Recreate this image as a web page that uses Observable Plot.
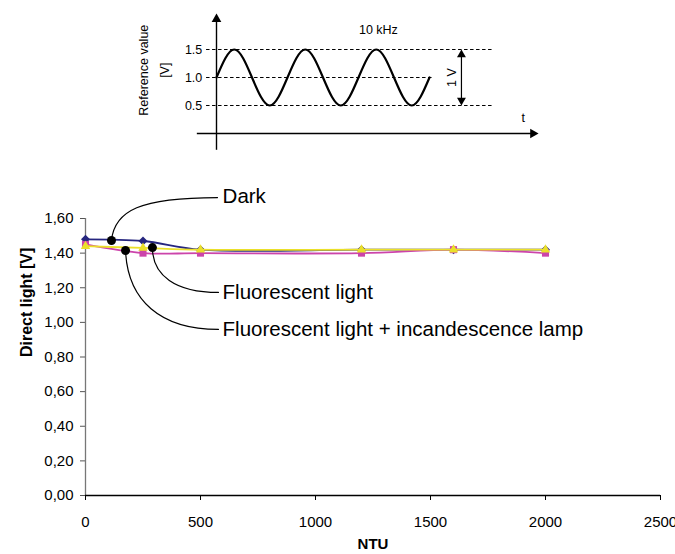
<!DOCTYPE html>
<html><head><meta charset="utf-8">
<script src="https://cdn.jsdelivr.net/npm/d3@7"></script>
<script src="https://cdn.jsdelivr.net/npm/@observablehq/plot@0.6"></script>
<style>
body{margin:0;background:#fff;}
#wrap{position:relative;width:675px;height:554px;overflow:hidden;background:#fff;}
#wrap svg{position:absolute;left:0;top:0;overflow:visible;}
</style></head><body><div id="wrap"></div>
<script>
// ---- main chart data ----
const ntu = [0, 250, 500, 1200, 1600, 2000];
const darkV = [1.48, 1.47, 1.42, 1.42, 1.42, 1.42];        // navy diamonds
const fluorIncV = [1.45, 1.40, 1.40, 1.40, 1.42, 1.40];    // magenta squares
const fluorV = [1.44, 1.43, 1.42, 1.42, 1.42, 1.42];       // yellow triangles
const seriesNames = ["Dark", "Fluorescent light + incandescence lamp", "Fluorescent light"];
const seriesValues = [darkV, fluorIncV, fluorV];
const seriesColors = ["#26267f", "#cc44aa", "#ebe02a"];
const seriesSymbols = ["square", "square", "triangle"];
const seriesRotate = [45, 0, 0];
const seriesR = [3.6, 4, 3.5];
const xTicks = [0, 500, 1000, 1500, 2000, 2500];
const xTickLabels = ["0", "500", "1000", "1500", "2000", "2500"];
const yTicks = [0, 0.2, 0.4, 0.6, 0.8, 1.0, 1.2, 1.4, 1.6];
const yTickLabels = ["0,00","0,20","0,40","0,60","0,80","1,00","1,20","1,40","1,60"];

// annotations (data units of the main chart): dot, bezier connector (start, ctrl1, ctrl2, end), label
const annotLabels = ["Dark", "Fluorescent light", "Fluorescent light + incandescence lamp"];
const annotDotX = [113, 291, 174];
const annotDotY = [1.473, 1.432, 1.415];
const annotPathX = [[113, 126, 239, 574], [291, 291, 391, 578], [174, 183, 326, 578]];
const annotPathY = [[1.473, 1.646, 1.721, 1.721], [1.432, 1.271, 1.173, 1.173], [1.415, 1.126, 0.959, 0.959]];
const annotTextX = [596, 596, 596];
const annotTextY = [1.727, 1.173, 0.959];

// ---- inset (reference signal) data ----
const sineT = [0, 0.25, 0.5, 0.75, 1, 1.25, 1.5, 1.75, 2, 2.25, 2.5, 2.75, 3];
const sineV = [1, 1.5, 1, 0.5, 1, 1.5, 1, 0.5, 1, 1.5, 1, 0.5, 1];
const levelV = [1.5, 1.0, 0.5];
const levelLabels = ["1.5", "1.0", "0.5"];
const levelEnd = [3.89, 3.07, 3.89];

const font = "Liberation Sans, Arial, Helvetica, sans-serif";
const wrap = document.getElementById("wrap");

// custom curve: one cubic Bezier from 4 points (start, control1, control2, end)
function bezierCurve(context) {
  let pts = [];
  return {
    areaStart() {}, areaEnd() {},
    lineStart() { pts = []; },
    point(x, y) { pts.push([+x, +y]); },
    lineEnd() {
      if (pts.length === 4) {
        context.moveTo(pts[0][0], pts[0][1]);
        context.bezierCurveTo(pts[1][0], pts[1][1], pts[2][0], pts[2][1], pts[3][0], pts[3][1]);
      } else if (pts.length) {
        context.moveTo(pts[0][0], pts[0][1]);
        for (const p of pts.slice(1)) context.lineTo(p[0], p[1]);
      }
    }
  };
}

// ---------- main chart ----------
const lineMarks = [];
seriesNames.forEach((name, s) => {
  const rows = ntu.map((x, i) => ({x, y: seriesValues[s][i]}));
  lineMarks.push(Plot.line(rows, {x: "x", y: "y", stroke: seriesColors[s], strokeWidth: 1.8, curve: "catmull-rom"}));
  lineMarks.push(Plot.dot(rows, {x: "x", y: "y", symbol: seriesSymbols[s], r: seriesR[s], fill: seriesColors[s], stroke: "none", rotate: seriesRotate[s]}));
});
const connRows = annotPathX.flatMap((xs, k) => xs.map((x, i) => ({k, x, y: annotPathY[k][i]})));

const main = Plot.plot({
  width: 675, height: 554,
  marginTop: 218, marginBottom: 59, marginLeft: 85, marginRight: 15,
  style: {fontFamily: font, fontSize: "15px", background: "transparent", overflow: "visible", color: "#000"},
  x: {domain: [0, 2500]},
  y: {domain: [0, 1.6]},
  marks: [
    Plot.axisY({ticks: yTicks, tickFormat: (d) => yTickLabels[yTicks.indexOf(d)], tickSize: 5, tickPadding: 7, label: null, fontSize: 15, stroke: "#555"}),
    Plot.axisX({ticks: xTicks, tickFormat: (d) => xTickLabels[xTicks.indexOf(d)], tickSize: 5, tickPadding: 16, label: null, fontSize: 15}),
    Plot.ruleX([0], {stroke: "#777", strokeWidth: 1.3}),
    Plot.ruleY([0], {stroke: "#000", strokeWidth: 1.3}),
    ...lineMarks,
    Plot.line(connRows, {x: "x", y: "y", z: "k", stroke: "#000", strokeWidth: 1.2, curve: bezierCurve}),
    Plot.dot(annotLabels, {x: annotDotX, y: annotDotY, r: 4.5, fill: "#000"}),
    Plot.text(annotLabels, {x: annotTextX, y: annotTextY, text: (d) => d, textAnchor: "start", fontSize: 20.5, fill: "#000"}),
    Plot.text(["Direct light [V]"], {text: (d) => d, frameAnchor: "left", dx: -59, rotate: -90, fontWeight: "bold", fontSize: 16, fill: "#000"}),
    Plot.text(["NTU"], {text: (d) => d, frameAnchor: "bottom", dy: 53, fontWeight: "bold", fontSize: 15, fill: "#000"})
  ]
});
wrap.appendChild(main);

// ---------- inset ----------
const sineRows = sineT.map((t, i) => ({t, v: sineV[i]}));
const inset = Plot.plot({
  width: 675, height: 160,
  marginTop: 0, marginBottom: 0, marginLeft: 0, marginRight: 0,
  style: {fontFamily: font, fontSize: "12.5px", background: "transparent", overflow: "visible", color: "#000"},
  x: {domain: [0, 3], range: [216, 429], axis: null},
  y: {domain: [0, 1.5], range: [133, 49], axis: null},
  marks: [
    Plot.ruleY(levelV, {y: (d) => d, x1: -0.14, x2: (d, i) => levelEnd[i], stroke: "#000", strokeWidth: 1, strokeDasharray: "3.5,2.5"}),
    Plot.ruleX([0], {y1: -0.30, y2: 2.05, stroke: "#000", strokeWidth: 1.4}),
    Plot.ruleY([0], {x1: -0.27, x2: 4.45, stroke: "#000", strokeWidth: 1.4}),
    Plot.dot([0], {x: 0, y: 2.14, symbol: "triangle", r: 3.6, fill: "#000", dy: 5.5}),
    Plot.dot([0], {x: 4.535, y: 0, symbol: "triangle", r: 3.6, fill: "#000", rotate: 90, dx: -5.5}),
    Plot.line(sineRows, {x: "t", y: "v", stroke: "#000", strokeWidth: 2.2, curve: "natural"}),
    Plot.ruleX([3.45], {y1: 0.56, y2: 1.44, stroke: "#000", strokeWidth: 1.2}),
    Plot.dot([0], {x: 3.45, y: 1.5, symbol: "triangle", r: 3.3, fill: "#000", dy: 5.2}),
    Plot.dot([0], {x: 3.45, y: 0.5, symbol: "triangle", r: 3.3, fill: "#000", rotate: 180, dy: -5.2}),
    Plot.text(levelLabels, {x: -0.2, y: levelV, text: (d) => d, textAnchor: "end", fontSize: 12.5}),
    Plot.text(["Reference value"], {text: (d) => d, x: -1.02, y: 1.13, rotate: -90, fontSize: 12.5}),
    Plot.text(["[V]"], {text: (d) => d, x: -0.73, y: 1.13, rotate: -90, fontSize: 12.5}),
    Plot.text(["10 kHz"], {text: (d) => d, x: 2.28, y: 1.857, fontSize: 12.5, letterSpacing: "-0.3px"}),
    Plot.text(["1 V"], {text: (d) => d, x: 3.32, y: 1.0, rotate: -90, fontSize: 12.5}),
    Plot.text(["t"], {text: (d) => d, x: 4.32, y: 0.27, fontSize: 12.5})
  ]
});
wrap.appendChild(inset);
</script>
</body></html>
